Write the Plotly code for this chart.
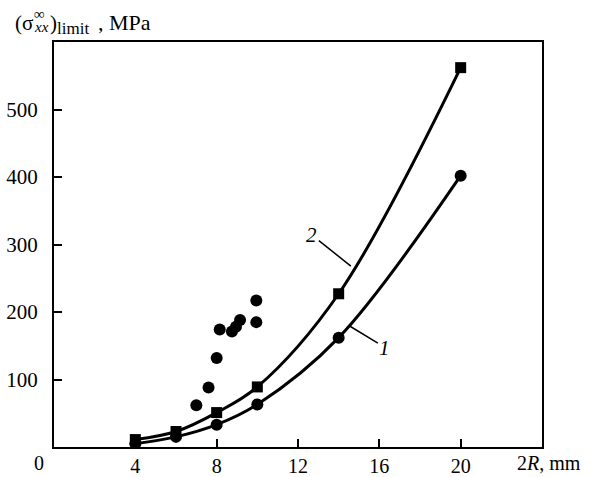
import plotly.graph_objects as go

# ---- data ----
x_fit = [4, 6, 8, 10, 14, 20]
y_curve1 = [5, 15, 33, 63, 162, 402]      # circles, curve 1
y_curve2 = [11, 23, 51, 89, 227, 562]     # squares, curve 2
exp_x = [7.0, 7.6, 8.0, 8.15, 8.75, 8.95, 9.15, 9.95, 9.95]
exp_y = [62, 88, 132, 174, 171, 178, 188, 185, 217]
x_ticks = [4, 8, 12, 16, 20]
y_ticks = [100, 200, 300, 400, 500]

W, H = 599, 477
P_L, P_R, P_T, P_B = 54, 542, 42, 447
pw, ph = P_R - P_L, P_B - P_T

def px(x):
    return (x - P_L) / pw

def py(y):
    return (P_B - y) / ph

FONT = "Liberation Serif"
FS = 21
XFS = 20

fig = go.Figure()
fig.add_trace(go.Scatter(x=x_fit, y=y_curve1, mode="lines+markers",
                         line=dict(color="black", width=3, shape="spline", smoothing=1),
                         marker=dict(symbol="circle", size=12, color="black"),
                         showlegend=False))
fig.add_trace(go.Scatter(x=x_fit, y=y_curve2, mode="lines+markers",
                         line=dict(color="black", width=3, shape="spline", smoothing=1),
                         marker=dict(symbol="square", size=11, color="black"),
                         showlegend=False))
fig.add_trace(go.Scatter(x=exp_x, y=exp_y, mode="markers",
                         marker=dict(symbol="circle", size=12, color="black"),
                         showlegend=False))

axis_common = dict(showline=True, linecolor="black", linewidth=2, mirror=True,
                   ticks="inside", ticklen=8, tickwidth=1.5, tickcolor="black",
                   showgrid=False, zeroline=False, automargin=False)
fig.update_xaxes(range=[0, 24], tickvals=x_ticks, ticktext=[str(v) for v in x_ticks],
                 ticklabelstandoff=0, tickfont=dict(family=FONT, size=XFS, color="black"),
                 **axis_common)
fig.update_yaxes(range=[0, 600], tickvals=y_ticks, ticktext=[str(v) for v in y_ticks],
                 ticklabelstandoff=10, tickfont=dict(family=FONT, size=FS, color="black"),
                 **axis_common)

tf = dict(family=FONT, size=FS, color="black")
xf = dict(family=FONT, size=XFS, color="black")
sf = dict(family=FONT, size=15, color="black")
lf = dict(family=FONT, size=17, color="black")

def pann(x, y, text, font, anchor="left"):
    return dict(x=px(x), y=py(y), xref="paper", yref="paper", text=text, showarrow=False,
                xanchor=anchor, yanchor="middle", font=font)

ann = [
    pann(39, 463, "0", xf, "center"),
    pann(515, 463, "2<i>R</i>, mm", xf),
    # y-axis title pieces (stacked super/subscript)
    pann(13, 23, "(σ", tf),
    pann(32, 14, "∞", sf),
    pann(32, 27, "<i>xx</i>", sf),
    pann(48, 23, ")", tf),
    pann(55, 29, "limit", lf),
    pann(96, 23, ", MPa", dict(family=FONT, size=22, color="black")),
]
# curve labels with leader lines
ann.append(dict(x=14.6, y=268, xref="x", yref="y", text="<i>2</i>", showarrow=True,
                arrowhead=0, arrowwidth=1.5, arrowcolor="black", ax=-39, ay=-31,
                font=tf))
ann.append(dict(x=14.5, y=180, xref="x", yref="y", text="<i>1</i>", showarrow=True,
                arrowhead=0, arrowwidth=1.5, arrowcolor="black", ax=36, ay=22,
                font=tf))

fig.update_layout(width=W, height=H,
                  margin=dict(l=P_L, r=W - P_R, t=P_T, b=H - P_B, autoexpand=False),
                  paper_bgcolor="white", plot_bgcolor="white", annotations=ann,
                  font=dict(family=FONT, color="black"))

fig.write_html("out.html", config={"displayModeBar": False},
               post_script="document.body.style.margin='0px';document.body.style.overflow='hidden';")
